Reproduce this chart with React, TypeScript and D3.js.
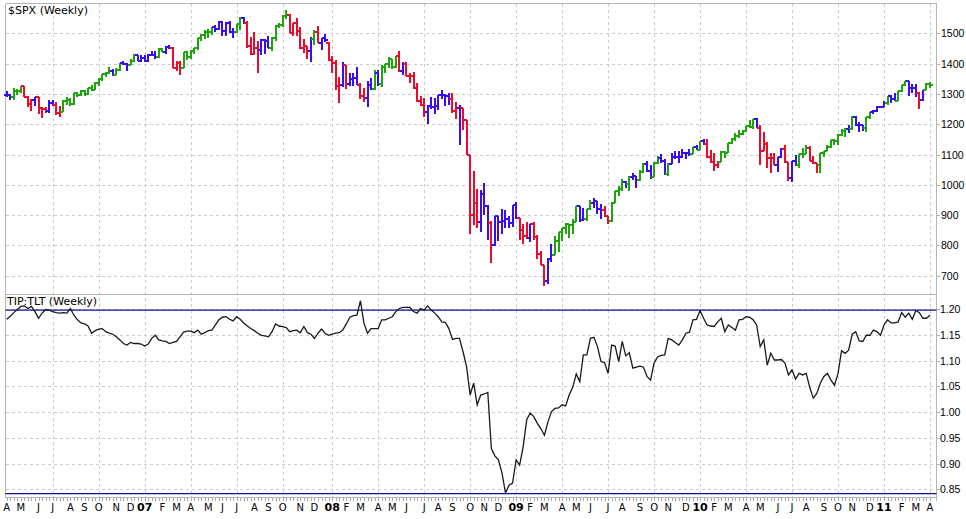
import * as d3 from "d3";
import React, { useRef, useEffect } from "react";

type Ohlc = [number, number, number, number];

// $SPX weekly bars: open, high, low, close (week ending Friday, first = 2006-04-07)
const spx2006: Ohlc[] = [
  [1297, 1310, 1291, 1295], [1295, 1300, 1280, 1289], [1289, 1318, 1281, 1311], [1311, 1316, 1295, 1310],
  [1310, 1326, 1303, 1325], [1325, 1326, 1290, 1291], [1291, 1293, 1256, 1267], [1267, 1282, 1245, 1280],
  [1280, 1290, 1260, 1289], [1289, 1290, 1235, 1253], [1253, 1258, 1219, 1251], [1251, 1258, 1237, 1245],
  [1245, 1280, 1238, 1270], [1270, 1280, 1260, 1265], [1265, 1273, 1232, 1236], [1236, 1260, 1225, 1240],
  [1240, 1280, 1239, 1278], [1278, 1290, 1265, 1279], [1279, 1285, 1261, 1266], [1266, 1302, 1265, 1302],
  [1302, 1306, 1290, 1295], [1295, 1312, 1292, 1311], [1311, 1314, 1294, 1299], [1299, 1320, 1297, 1319],
  [1319, 1329, 1308, 1314], [1314, 1340, 1313, 1336], [1336, 1353, 1327, 1349], [1349, 1366, 1344, 1365],
  [1365, 1372, 1357, 1368], [1368, 1389, 1366, 1377], [1377, 1381, 1360, 1364], [1364, 1385, 1361, 1380],
  [1380, 1403, 1374, 1401], [1401, 1407, 1397, 1400], [1400, 1403, 1377, 1396], [1396, 1415, 1394, 1409],
  [1409, 1431, 1405, 1427], [1427, 1430, 1410, 1410], [1410, 1427, 1405, 1418],
];
const spx2007: Ohlc[] = [
  [1418, 1429, 1404, 1409], [1409, 1431, 1405, 1430], [1430, 1441, 1424, 1430], [1430, 1441, 1416, 1422],
  [1422, 1452, 1420, 1449], [1449, 1453, 1437, 1438], [1438, 1457, 1431, 1455], [1455, 1461, 1448, 1451],
  [1451, 1456, 1385, 1387], [1387, 1410, 1374, 1402], [1402, 1410, 1364, 1386], [1386, 1438, 1384, 1437],
  [1437, 1440, 1411, 1421], [1421, 1445, 1416, 1443], [1443, 1453, 1432, 1452], [1452, 1485, 1446, 1484],
  [1484, 1499, 1476, 1494], [1494, 1510, 1480, 1505], [1505, 1513, 1484, 1505], [1505, 1522, 1496, 1522],
  [1522, 1529, 1505, 1515], [1515, 1540, 1510, 1536], [1536, 1540, 1490, 1507], [1507, 1538, 1492, 1533],
  [1533, 1540, 1500, 1503], [1503, 1518, 1484, 1503], [1503, 1532, 1500, 1530], [1530, 1555, 1510, 1552],
  [1552, 1555, 1530, 1534], [1534, 1539, 1452, 1458], [1458, 1488, 1430, 1433], [1433, 1504, 1429, 1453],
  [1453, 1474, 1370, 1445], [1445, 1482, 1430, 1479], [1479, 1482, 1432, 1474], [1474, 1490, 1453, 1453],
  [1453, 1487, 1440, 1484], [1484, 1529, 1476, 1525], [1525, 1533, 1516, 1527], [1527, 1561, 1522, 1557],
  [1557, 1576, 1547, 1561], [1561, 1564, 1500, 1500], [1500, 1535, 1490, 1535], [1535, 1552, 1492, 1509],
  [1509, 1520, 1448, 1453], [1453, 1480, 1435, 1458], [1458, 1458, 1416, 1441], [1441, 1488, 1406, 1481],
  [1481, 1510, 1460, 1504], [1504, 1523, 1467, 1468], [1468, 1485, 1445, 1484], [1484, 1499, 1470, 1478],
];
const spx2008: Ohlc[] = [
  [1468, 1472, 1410, 1411], [1411, 1424, 1370, 1401], [1401, 1412, 1313, 1325], [1325, 1355, 1270, 1331],
  [1331, 1406, 1322, 1396], [1396, 1396, 1317, 1332], [1332, 1369, 1327, 1349], [1349, 1368, 1326, 1353],
  [1353, 1388, 1330, 1331], [1331, 1335, 1282, 1294], [1294, 1321, 1273, 1288], [1288, 1341, 1257, 1330],
  [1330, 1352, 1312, 1316], [1316, 1380, 1312, 1370], [1370, 1378, 1327, 1333], [1333, 1395, 1324, 1390],
  [1390, 1400, 1370, 1398], [1398, 1422, 1384, 1414], [1414, 1416, 1383, 1389], [1389, 1426, 1384, 1426],
  [1426, 1440, 1373, 1375], [1375, 1406, 1364, 1400], [1400, 1405, 1360, 1360], [1360, 1370, 1335, 1360],
  [1360, 1371, 1316, 1318], [1318, 1335, 1272, 1278], [1278, 1292, 1260, 1262], [1262, 1285, 1225, 1239],
  [1239, 1262, 1200, 1261], [1261, 1290, 1250, 1257], [1257, 1285, 1234, 1260], [1260, 1297, 1248, 1296],
  [1296, 1313, 1283, 1298], [1298, 1300, 1261, 1292], [1292, 1304, 1262, 1283], [1283, 1303, 1236, 1242],
  [1242, 1274, 1217, 1252], [1252, 1265, 1133, 1255], [1255, 1255, 1180, 1213], [1213, 1215, 1098, 1099],
  [1099, 1100, 839, 899], [899, 1044, 866, 940], [940, 986, 858, 877], [877, 984, 845, 968],
  [968, 1007, 899, 930], [930, 932, 818, 873], [873, 880, 741, 800], [800, 897, 797, 896],
  [896, 897, 815, 876], [876, 919, 839, 879], [879, 918, 857, 887], [887, 898, 857, 873],
];
const spx2009: Ohlc[] = [
  [873, 934, 860, 932], [932, 943, 888, 890], [890, 890, 817, 850], [850, 871, 804, 832],
  [832, 877, 821, 826], [826, 870, 812, 869], [869, 876, 818, 827], [827, 835, 754, 770],
  [770, 780, 735, 735], [735, 735, 667, 683], [683, 758, 672, 756], [756, 804, 745, 768],
  [768, 832, 767, 816], [816, 845, 779, 843], [843, 857, 814, 857], [857, 875, 838, 870],
  [870, 871, 826, 866], [866, 888, 839, 878], [878, 930, 876, 929], [929, 930, 878, 883],
  [883, 924, 879, 887], [887, 920, 880, 919], [919, 951, 916, 940], [940, 956, 925, 946],
  [946, 946, 904, 921], [921, 935, 888, 918], [918, 931, 895, 896], [896, 898, 869, 879],
  [879, 943, 876, 940], [940, 979, 940, 979], [979, 997, 964, 987], [987, 1018, 981, 1010],
  [1010, 1013, 990, 1004], [1004, 1028, 979, 1026], [1026, 1039, 1015, 1029], [1029, 1030, 991, 1016],
  [1016, 1049, 1013, 1042], [1042, 1071, 1040, 1068], [1068, 1080, 1041, 1044], [1044, 1065, 1020, 1025],
  [1025, 1076, 1025, 1071], [1071, 1096, 1070, 1087], [1087, 1101, 1072, 1079], [1079, 1085, 1033, 1036],
  [1036, 1071, 1029, 1069], [1069, 1106, 1068, 1093], [1093, 1113, 1085, 1091], [1091, 1112, 1073, 1091],
  [1091, 1119, 1087, 1106], [1106, 1108, 1086, 1106], [1106, 1117, 1095, 1102], [1102, 1126, 1102, 1126],
  [1126, 1130, 1115, 1115],
];
const spx2010: Ohlc[] = [
  [1115, 1145, 1115, 1144], [1144, 1150, 1131, 1136], [1136, 1150, 1090, 1091], [1091, 1115, 1071, 1074],
  [1074, 1104, 1044, 1066], [1066, 1080, 1057, 1075], [1075, 1112, 1075, 1109], [1109, 1112, 1087, 1104],
  [1104, 1139, 1104, 1139], [1139, 1153, 1135, 1150], [1150, 1170, 1146, 1160], [1160, 1181, 1155, 1167],
  [1167, 1181, 1165, 1179], [1179, 1194, 1175, 1194], [1194, 1214, 1186, 1192], [1192, 1218, 1184, 1217],
  [1217, 1220, 1186, 1187], [1187, 1197, 1065, 1111], [1111, 1173, 1110, 1136], [1136, 1141, 1056, 1088],
  [1088, 1104, 1040, 1089], [1089, 1106, 1064, 1065], [1065, 1092, 1043, 1092], [1092, 1121, 1087, 1117],
  [1117, 1131, 1071, 1076], [1076, 1076, 1011, 1022], [1022, 1078, 1010, 1078], [1078, 1100, 1063, 1065],
  [1065, 1103, 1056, 1102], [1102, 1120, 1088, 1101], [1101, 1130, 1101, 1121], [1121, 1129, 1077, 1079],
  [1079, 1095, 1069, 1071], [1071, 1072, 1039, 1065], [1065, 1105, 1040, 1104], [1104, 1110, 1091, 1110],
  [1110, 1131, 1110, 1125], [1125, 1149, 1122, 1148], [1148, 1150, 1131, 1146], [1146, 1167, 1131, 1166],
  [1166, 1184, 1160, 1176], [1176, 1189, 1159, 1183], [1183, 1196, 1171, 1183], [1183, 1227, 1181, 1225],
  [1225, 1228, 1194, 1199], [1199, 1207, 1173, 1199], [1199, 1199, 1176, 1189], [1189, 1225, 1174, 1224],
  [1224, 1241, 1218, 1240], [1240, 1247, 1233, 1244], [1244, 1259, 1240, 1257], [1257, 1260, 1252, 1258],
];
const spx2011: Ohlc[] = [
  [1258, 1278, 1257, 1271], [1271, 1293, 1262, 1293], [1293, 1296, 1271, 1283], [1283, 1302, 1275, 1276],
  [1276, 1311, 1276, 1311], [1311, 1330, 1306, 1329], [1329, 1344, 1325, 1343], [1343, 1343, 1294, 1320],
  [1320, 1333, 1302, 1321], [1321, 1333, 1291, 1304], [1304, 1305, 1249, 1279], [1279, 1314, 1275, 1313],
  [1313, 1337, 1312, 1332], [1332, 1339, 1320, 1328],
];

// bar colour per week: G green, R red, B blue
const colors2006 = "BBGGGRRRBRRRBBRRGGGGGGGGGGGGGGBGGBBGGBB";
const colors2007 = "BBBBGGBBRRRGGGGGGGGGBBBBBBGGBRRRRBBBGGGGGRRRRRRBGRBB";
const colors2008 = "RRRRBRBBBRRBBGBGGGGGRBRRRRRRBBBBBBBRRBRRRRRBBBRBBBBB";
const colors2009 = "BBRRRBRRRRBBGGGGGGGBBGGBBBRRGGGGBGBBGGBBGGBBGBBBBBBGB";
const colors2010 = "GBRRRRGGGGGGGGGGBRRRRRBBRRBBGGGRRRGGGGGGGGBGBBBGGBBB";
const colors2011 = "BGBBGGGBBBRBGG";

// TIP:TLT weekly close
const ratio2006 = [
  1.18, 1.186, 1.193, 1.199, 1.205, 1.206, 1.201, 1.205, 1.195, 1.182,
  1.192, 1.199, 1.198, 1.195, 1.193, 1.192, 1.193, 1.192, 1.201, 1.188,
  1.179, 1.173, 1.171, 1.167, 1.153, 1.158, 1.161, 1.162, 1.156, 1.153,
  1.151, 1.146, 1.14, 1.133, 1.13, 1.135, 1.133, 1.133, 1.132,
];
const ratio2007 = [
  1.128, 1.132, 1.143, 1.149, 1.14, 1.138, 1.137, 1.133, 1.135, 1.137,
  1.146, 1.155, 1.157, 1.157, 1.154, 1.159, 1.151, 1.154, 1.158, 1.159,
  1.169, 1.179, 1.184, 1.185, 1.18, 1.177, 1.185, 1.18, 1.173, 1.167,
  1.162, 1.158, 1.153, 1.149, 1.148, 1.146, 1.156, 1.171, 1.167, 1.166,
  1.164, 1.156, 1.158, 1.159, 1.154, 1.166, 1.154, 1.151, 1.143, 1.153,
  1.161, 1.153,
];
const ratio2008 = [
  1.149, 1.151, 1.153, 1.154, 1.159, 1.171, 1.184, 1.187, 1.188, 1.216,
  1.172, 1.153, 1.162, 1.162, 1.162, 1.179, 1.179, 1.182, 1.185, 1.195,
  1.201, 1.203, 1.203, 1.203, 1.195, 1.192, 1.201, 1.198, 1.206, 1.198,
  1.192, 1.185, 1.175, 1.174, 1.162, 1.141, 1.143, 1.143, 1.117, 1.088,
  1.033, 1.056, 1.014, 1.033, 1.035, 1.038, 0.929, 0.915, 0.907, 0.882,
  0.843, 0.858,
];
const ratio2009 = [
  0.862, 0.907, 0.897, 0.933, 0.985, 0.998, 0.991, 0.978, 0.968, 0.955,
  0.981, 1.001, 1.007, 1.008, 1.014, 1.012, 1.033, 1.048, 1.074, 1.059,
  1.111, 1.111, 1.143, 1.145, 1.127, 1.098, 1.096, 1.075, 1.13, 1.128,
  1.098, 1.137, 1.109, 1.115, 1.085, 1.087, 1.089, 1.087, 1.069, 1.062,
  1.095, 1.107, 1.11, 1.111, 1.143, 1.14, 1.135, 1.13, 1.14, 1.153,
  1.155, 1.179, 1.18,
];
const ratio2010 = [
  1.197, 1.182, 1.169, 1.167, 1.166, 1.175, 1.182, 1.156, 1.169, 1.164,
  1.159, 1.179, 1.18, 1.185, 1.184, 1.179, 1.169, 1.127, 1.14, 1.091,
  1.114, 1.101, 1.101, 1.102, 1.095, 1.072, 1.082, 1.064, 1.075, 1.072,
  1.075, 1.048, 1.027, 1.036, 1.056, 1.069, 1.075, 1.062, 1.052, 1.075,
  1.119, 1.114, 1.12, 1.151, 1.156, 1.138, 1.137, 1.149, 1.149, 1.159,
  1.156, 1.149,
];
const ratio2011 = [
  1.169, 1.179, 1.173, 1.173, 1.175, 1.193, 1.184, 1.192, 1.18, 1.197,
  1.193, 1.182, 1.182, 1.188,
];

const priceTicks = [700, 800, 900, 1000, 1100, 1200, 1300, 1400, 1500];
const ratioTicks = [0.85, 0.9, 0.95, 1.0, 1.05, 1.1, 1.15, 1.2];
// horizontal lines drawn on the ratio panel
const ratioLevels = [1.198, 0.8415];

const FIRST_WEEK = Date.UTC(2006, 3, 7);
const MONTH_LETTERS = "JFMAMJJASOND";

const barColors: Record<string, string> = {
  G: "#1ea50c",
  R: "#ee0a2c",
  B: "#3a0bf5",
};

const App: React.FC = () => {
  const svgRef = useRef<SVGSVGElement | null>(null);

  useEffect(() => {
    if (!svgRef.current) return;
    const svg = d3.select(svgRef.current);
    svg.selectAll("*").remove();

    const bars = [...spx2006, ...spx2007, ...spx2008, ...spx2009, ...spx2010, ...spx2011];
    const colors = (colors2006 + colors2007 + colors2008 + colors2009 + colors2010 + colors2011).split("");
    const ratio = [...ratio2006, ...ratio2007, ...ratio2008, ...ratio2009, ...ratio2010, ...ratio2011];
    const weeks = bars.map((_, i) => new Date(FIRST_WEEK + i * 7 * 864e5));

    // panel frame
    const plotL = 5.5;
    const plotR = 936.5;
    const top1 = 3.5;
    const sep = 294.5;
    const bot = 497.5;

    const x = d3
      .scaleUtc()
      .domain([weeks[0], weeks[weeks.length - 1]])
      .range([6.7, 930]);
    const yPrice = d3.scaleLinear().domain([700, 1500]).range([275.7, 33.3]);
    const yRatio = d3.scaleLinear().domain([0.85, 1.2]).range([489.3, 309]);

    svg.append("rect").attr("width", 966).attr("height", 519).attr("fill", "#fff");

    // month starts (by the Monday of each week)
    const monthStarts = weeks.flatMap((d, i) => {
      const mon = d3.utcDay.offset(d, -4);
      if (i > 0 && d3.utcDay.offset(weeks[i - 1], -4).getUTCMonth() === mon.getUTCMonth()) return [];
      return [{ date: d, month: mon.getUTCMonth(), year: mon.getUTCFullYear() }];
    });

    const grid = svg
      .append("g")
      .attr("stroke", "#cdcdcd")
      .attr("stroke-dasharray", "3,3")
      .attr("shape-rendering", "crispEdges");

    grid
      .selectAll("line.vg")
      .data(monthStarts.filter((m) => m.month % 3 === 0 && x(m.date) > 12))
      .enter()
      .append("line")
      .attr("x1", (d) => Math.round(x(d.date)) + 0.5)
      .attr("x2", (d) => Math.round(x(d.date)) + 0.5)
      .attr("y1", top1)
      .attr("y2", bot);

    grid
      .selectAll("line.pg")
      .data(priceTicks)
      .enter()
      .append("line")
      .attr("x1", plotL)
      .attr("x2", plotR)
      .attr("y1", (d) => Math.round(yPrice(d)) + 0.5)
      .attr("y2", (d) => Math.round(yPrice(d)) + 0.5);

    grid
      .selectAll("line.rg")
      .data(ratioTicks)
      .enter()
      .append("line")
      .attr("x1", plotL)
      .attr("x2", plotR)
      .attr("y1", (d) => Math.round(yRatio(d)) + 0.5)
      .attr("y2", (d) => Math.round(yRatio(d)) + 0.5);

    // frame lines
    const frame = svg.append("g").attr("stroke", "#b4b4b4").attr("shape-rendering", "crispEdges");
    [top1, sep, bot].forEach((y) => {
      frame.append("line").attr("x1", plotL).attr("x2", plotR).attr("y1", y).attr("y2", y);
    });
    frame.append("line").attr("x1", plotL).attr("x2", plotL).attr("y1", top1).attr("y2", bot);
    frame.append("line").attr("x1", plotR).attr("x2", plotR).attr("y1", top1).attr("y2", bot + 3);

    // right-hand tick marks
    [...priceTicks.map((d) => yPrice(d)), ...ratioTicks.map((d) => yRatio(d))].forEach((y) => {
      frame
        .append("line")
        .attr("x1", plotR)
        .attr("x2", plotR + 3)
        .attr("y1", Math.round(y) + 0.5)
        .attr("y2", Math.round(y) + 0.5);
    });

    // weekly ticks under the lower panel
    svg
      .append("g")
      .attr("stroke", "#a8a8a8")
      .attr("shape-rendering", "crispEdges")
      .selectAll("line")
      .data(weeks)
      .enter()
      .append("line")
      .attr("x1", (d) => Math.round(x(d)) + 0.5)
      .attr("x2", (d) => Math.round(x(d)) + 0.5)
      .attr("y1", bot)
      .attr("y2", bot + 3);

    // SPX OHLC bars
    svg
      .append("g")
      .attr("fill", "none")
      .attr("stroke-width", 2)
      .attr("shape-rendering", "crispEdges")
      .selectAll("path")
      .data(bars)
      .enter()
      .append("path")
      .attr("stroke", (_, i) => barColors[colors[i]])
      .attr("d", (d, i) => {
        const cx = Math.round(x(weeks[i]));
        const [o, h, l, c] = d;
        return (
          `M${cx},${yPrice(h)}V${yPrice(l)}` +
          `M${cx - 3},${yPrice(o)}H${cx}` +
          `M${cx},${yPrice(c)}H${cx + 3}`
        );
      });

    // horizontal level lines on ratio panel
    svg
      .append("g")
      .attr("stroke", "#101090")
      .attr("stroke-width", 1.3)
      .selectAll("line")
      .data(ratioLevels)
      .enter()
      .append("line")
      .attr("x1", plotL)
      .attr("x2", plotR)
      .attr("y1", (d) => yRatio(d))
      .attr("y2", (d) => yRatio(d));

    // TIP:TLT line
    const line = d3
      .line<number>()
      .x((_, i) => x(weeks[i]))
      .y((d) => yRatio(d));

    svg
      .append("path")
      .datum(ratio)
      .attr("fill", "none")
      .attr("stroke", "#1a1a1a")
      .attr("stroke-width", 1.3)
      .attr("d", line);

    // titles
    const titleFont = "'DejaVu Sans', Verdana, sans-serif";
    svg
      .append("text")
      .attr("x", 8)
      .attr("y", 14)
      .style("font-family", titleFont)
      .style("font-size", "11px")
      .text("$SPX (Weekly)");
    svg
      .append("text")
      .attr("x", 7)
      .attr("y", 305)
      .style("font-family", titleFont)
      .style("font-size", "11px")
      .text("TIP:TLT (Weekly)");

    // right axis labels
    const axisFont = "'Liberation Sans', Arial, sans-serif";
    svg
      .append("g")
      .selectAll("text")
      .data(priceTicks)
      .enter()
      .append("text")
      .attr("x", 941)
      .attr("y", (d) => yPrice(d) + 4)
      .style("font-family", axisFont)
      .style("font-size", "10.5px")
      .text((d) => String(d));
    svg
      .append("g")
      .selectAll("text")
      .data(ratioTicks)
      .enter()
      .append("text")
      .attr("x", 940)
      .attr("y", (d) => yRatio(d) + 4)
      .style("font-family", axisFont)
      .style("font-size", "10.5px")
      .text((d) => d3.format(".2f")(d));

    // month labels, January shows the year in bold
    svg
      .append("g")
      .selectAll("text")
      .data(monthStarts)
      .enter()
      .append("text")
      .attr("x", (d) => x(d.date))
      .attr("y", 511)
      .attr("text-anchor", "middle")
      .style("font-family", titleFont)
      .style("font-size", (d) => (d.month === 0 ? "11px" : "10px"))
      .style("font-weight", (d) => (d.month === 0 ? "bold" : "normal"))
      .text((d) => (d.month === 0 ? d3.format("02d")(d.year % 100) : MONTH_LETTERS[d.month]));
  }, []);

  return (
    <div style={{ position: "fixed", left: 0, top: 0, width: 966, height: 519, background: "#fff" }}>
      <svg ref={svgRef} width={966} height={519}></svg>
    </div>
  );
};

export default App;
